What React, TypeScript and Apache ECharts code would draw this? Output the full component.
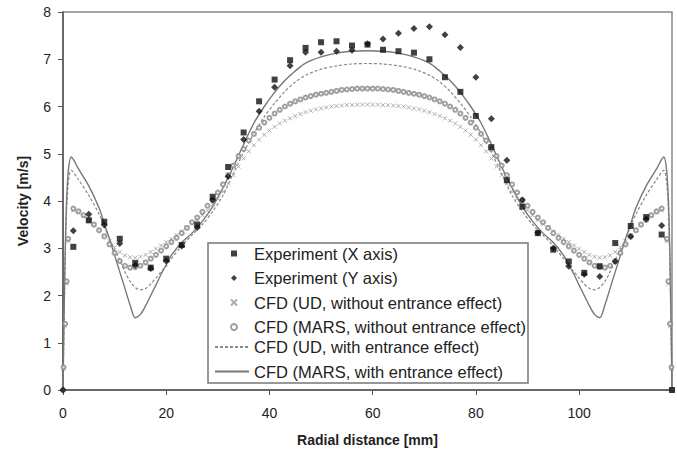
import React, { useEffect, useRef } from "react";
import * as echarts from "echarts";

const NAMES = [
  "Experiment (X axis)",
  "Experiment (Y axis)",
  "CFD (UD, without entrance effect)",
  "CFD (MARS, without entrance effect)",
  "CFD (UD, with entrance effect)",
  "CFD (MARS, with entrance effect)",
];

const xTicks = [0, 20, 40, 60, 80, 100];
const yTicks = [0, 1, 2, 3, 4, 5, 6, 7, 8];

// Experiment (X axis) - squares
const expXPos = [2, 5, 8, 11, 14, 17, 20, 23, 26, 29, 32, 35, 38, 41, 44, 47, 50, 53, 56, 59, 62, 65, 68, 71, 74, 77, 80, 83, 86, 89, 92, 95, 98, 101, 104, 107, 110, 113, 116, 118];
const expXVal = [3.03, 3.59, 3.56, 3.2, 2.69, 2.59, 2.78, 3.07, 3.5, 4.09, 4.72, 5.45, 6.11, 6.57, 6.98, 7.24, 7.36, 7.38, 7.29, 7.31, 7.2, 7.17, 7.14, 7.0, 6.62, 6.31, 5.8, 5.14, 4.44, 3.88, 3.32, 2.97, 2.72, 2.48, 2.62, 3.11, 3.47, 3.66, 3.29, 0];

// Experiment (Y axis) - diamonds
const expYPos = [0, 2, 5, 8, 11, 14, 17, 20, 23, 26, 29, 32, 35, 38, 41, 44, 47, 50, 53, 56, 59, 62, 65, 68, 71, 74, 77, 80, 83, 86, 89, 92, 95, 98, 101, 104, 107, 110, 113, 116];
const expYVal = [0, 3.37, 3.72, 3.49, 3.1, 2.64, 2.57, 2.73, 3.05, 3.44, 4.02, 4.52, 5.3, 5.9, 6.41, 6.86, 7.15, 7.15, 7.17, 7.19, 7.33, 7.43, 7.55, 7.65, 7.69, 7.52, 7.25, 6.62, 5.74, 4.86, 4.02, 3.33, 3.0, 2.62, 2.45, 2.4, 2.72, 3.25, 3.62, 3.48];

// CFD marker positions (mm)
const cfdPos = [0, 0.1, 0.4, 0.7,
  1, 2, 3, 4, 5, 6, 7, 8, 9, 10, 11, 12, 13, 14, 15, 16, 17, 18, 19, 20,
  21, 22, 23, 24, 25, 26, 27, 28, 29, 30, 31, 32, 33, 34, 35, 36, 37, 38, 39, 40,
  41, 42, 43, 44, 45, 46, 47, 48, 49, 50, 51, 52, 53, 54, 55, 56, 57, 58, 59, 60,
  61, 62, 63, 64, 65, 66, 67, 68, 69, 70, 71, 72, 73, 74, 75, 76, 77, 78, 79, 80,
  81, 82, 83, 84, 85, 86, 87, 88, 89, 90, 91, 92, 93, 94, 95, 96, 97, 98, 99, 100,
  101, 102, 103, 104, 105, 106, 107, 108, 109, 110, 111, 112, 113, 114, 115, 116, 117,
  117.3, 117.6, 117.9, 118];

// CFD (UD, without entrance effect) - crosses
const udNoEntr = [0, 0.45, 1.35, 2.25,
  3.15, 3.8, 3.76, 3.68, 3.6, 3.5, 3.4, 3.28, 3.15, 3.02, 2.92, 2.85, 2.81, 2.8, 2.82, 2.86, 2.92, 2.99, 3.06, 3.13,
  3.2, 3.28, 3.36, 3.44, 3.52, 3.6, 3.7, 3.8, 3.92, 4.05, 4.2, 4.37, 4.55, 4.73, 4.9, 5.05, 5.18, 5.3, 5.4, 5.49,
  5.57, 5.64, 5.7, 5.75, 5.8, 5.84, 5.88, 5.91, 5.94, 5.96, 5.98, 6.0, 6.01, 6.02, 6.03, 6.03, 6.04, 6.04, 6.04, 6.04,
  6.04, 6.03, 6.03, 6.02, 6.01, 6.0, 5.98, 5.96, 5.94, 5.91, 5.88, 5.84, 5.8, 5.75, 5.7, 5.64, 5.57, 5.49, 5.4, 5.3,
  5.18, 5.05, 4.9, 4.73, 4.55, 4.37, 4.2, 4.05, 3.92, 3.8, 3.7, 3.6, 3.52, 3.44, 3.36, 3.28, 3.2, 3.13, 3.06, 2.99,
  2.92, 2.86, 2.82, 2.8, 2.81, 2.85, 2.92, 3.02, 3.15, 3.28, 3.4, 3.5, 3.6, 3.68, 3.76, 3.8, 3.15,
  2.25, 1.35, 0.45, 0];

// CFD (MARS, without entrance effect) - circles
const marsNoEntr = [0, 0.48, 1.4, 2.3,
  3.2, 3.84, 3.78, 3.7, 3.6, 3.5, 3.38, 3.25, 3.08, 2.9, 2.73, 2.63, 2.59, 2.6, 2.63, 2.7, 2.78, 2.86, 2.95, 3.04,
  3.13, 3.22, 3.32, 3.43, 3.55, 3.65, 3.77, 3.9, 4.02, 4.18, 4.35, 4.55, 4.75, 4.95, 5.1, 5.28, 5.42, 5.55, 5.66, 5.76,
  5.85, 5.93, 6.0, 6.06, 6.11, 6.15, 6.19, 6.22, 6.25, 6.27, 6.29, 6.31, 6.33, 6.35, 6.36, 6.37, 6.38, 6.38, 6.38, 6.38,
  6.38, 6.37, 6.36, 6.35, 6.33, 6.31, 6.29, 6.27, 6.25, 6.22, 6.19, 6.15, 6.11, 6.06, 6.0, 5.93, 5.85, 5.76, 5.66, 5.55,
  5.42, 5.28, 5.1, 4.95, 4.75, 4.55, 4.35, 4.18, 4.02, 3.9, 3.77, 3.65, 3.55, 3.43, 3.32, 3.22, 3.13, 3.04, 2.95, 2.86,
  2.78, 2.7, 2.63, 2.6, 2.59, 2.63, 2.73, 2.9, 3.08, 3.25, 3.38, 3.5, 3.6, 3.7, 3.78, 3.84, 3.2,
  2.3, 1.4, 0.48, 0];

// CFD (UD, with entrance effect) - dashed line
const udEntrPos = [0, 0.3, 0.6, 1, 1.6, 3, 5, 7, 8, 9, 10, 11, 12, 13, 14, 15, 16, 17, 18, 19, 20, 21, 23, 25, 27, 29, 31, 33, 35, 37, 39, 41, 43, 45, 47, 50, 53, 56, 59,
  62, 65, 68, 71, 73, 75, 77, 79, 81, 83, 85, 87, 89, 91, 93, 95, 97, 98, 99, 100, 101, 102, 103, 104, 105, 106, 107, 108, 109, 110, 111, 113, 115, 116.4, 117, 117.4, 117.7, 118];
const udEntrVal = [0, 2.0, 3.5, 4.35, 4.65, 4.45, 4.12, 3.72, 3.47, 3.2, 2.97, 2.75, 2.5, 2.3, 2.17, 2.12, 2.15, 2.24, 2.37, 2.5, 2.62, 2.78, 3.05, 3.28, 3.5, 3.78, 4.12, 4.58, 5.03, 5.43, 5.78, 6.07, 6.32, 6.52, 6.66, 6.79, 6.86, 6.9, 6.91,
  6.9, 6.86, 6.79, 6.66, 6.52, 6.32, 6.07, 5.78, 5.43, 5.03, 4.58, 4.12, 3.78, 3.5, 3.28, 3.05, 2.78, 2.62, 2.5, 2.37, 2.24, 2.15, 2.12, 2.17, 2.3, 2.5, 2.75, 2.97, 3.2, 3.47, 3.72, 4.12, 4.45, 4.65, 4.35, 3.5, 2.0, 0];

// CFD (MARS, with entrance effect) - solid line
const marsEntrPos = [0, 0.3, 0.6, 1, 1.6, 3, 5, 7, 8, 9, 10, 11, 12, 13, 14, 15, 16, 17, 18, 19, 20, 21, 23, 25, 27, 29, 31, 33, 35, 37, 39, 41, 43, 45, 47, 50, 53, 56, 59,
  62, 65, 68, 71, 73, 75, 77, 79, 81, 83, 85, 87, 89, 91, 93, 95, 97, 98, 99, 100, 101, 102, 103, 104, 105, 106, 107, 108, 109, 110, 111, 113, 115, 116.4, 117, 117.4, 117.7, 118];
const marsEntrVal = [0, 2.2, 3.7, 4.6, 4.93, 4.68, 4.32, 3.85, 3.52, 3.2, 2.85, 2.5, 2.15, 1.8, 1.53, 1.6, 1.78, 2.0, 2.22, 2.45, 2.65, 2.85, 3.12, 3.32, 3.57, 3.88, 4.28, 4.72, 5.2, 5.65, 6.0, 6.3, 6.55, 6.75, 6.92, 7.05, 7.13, 7.17, 7.18,
  7.17, 7.13, 7.05, 6.92, 6.75, 6.55, 6.3, 6.0, 5.65, 5.2, 4.72, 4.28, 3.88, 3.57, 3.32, 3.12, 2.85, 2.65, 2.45, 2.22, 2.0, 1.78, 1.6, 1.53, 1.8, 2.15, 2.5, 2.85, 3.2, 3.52, 3.85, 4.32, 4.68, 4.93, 4.6, 3.7, 2.2, 0];

const zip = (xs: number[], ys: number[]) => xs.map((x, i) => [x, ys[i]]);

const FONT = "'Liberation Sans', Arial, Helvetica, sans-serif";

export default function App() {
  const ref = useRef<HTMLDivElement>(null);
  useEffect(() => {
    const chart = echarts.init(ref.current!, null, { renderer: "svg" });
    const legendText = { fontSize: 16.5, color: "#222", fontFamily: FONT, lineHeight: 14 };
    chart.setOption({
      animation: false,
      backgroundColor: "#fff",
      textStyle: { fontFamily: FONT },
      grid: {
        left: 63, right: 5, top: 12, bottom: 62,
        show: true, borderColor: "#888", borderWidth: 1.5,
      },
      xAxis: {
        type: "value", min: xTicks[0], max: 118, interval: 20,
        name: "Radial distance [mm]", nameLocation: "middle", nameGap: 43,
        nameTextStyle: { fontSize: 14, fontWeight: "bold", color: "#222", fontFamily: FONT },
        axisLine: { lineStyle: { color: "#555", width: 1.5 } },
        axisTick: { show: true, length: 5, lineStyle: { color: "#555" } },
        axisLabel: { fontSize: 14, color: "#222", margin: 16, showMaxLabel: false, fontFamily: FONT,
          formatter: (v: number) => (xTicks.includes(v) ? String(v) : "") },
        splitLine: { show: false },
      },
      yAxis: {
        type: "value", min: yTicks[0], max: yTicks[yTicks.length - 1], interval: 1,
        name: "Velocity [m/s]", nameLocation: "middle", nameGap: 33,
        nameTextStyle: { fontSize: 14, fontWeight: "bold", color: "#222", fontFamily: FONT },
        axisLine: { show: true, lineStyle: { color: "#555", width: 1.5 } },
        axisTick: { show: true, length: 5, lineStyle: { color: "#555" } },
        axisLabel: { fontSize: 14, color: "#222", margin: 12, fontFamily: FONT },
        splitLine: { show: false },
      },
      legend: [
        {
          orient: "vertical", left: 230, top: 245, z: 120, padding: 0,
          itemWidth: 6, itemHeight: 6, itemGap: 7.5,
          data: NAMES.slice(0, 4),
          textStyle: { ...legendText, padding: [0, 0, 0, 12] },
        },
        {
          orient: "vertical", left: 214, top: 245 + 4 * 23.4, z: 120, padding: 0,
          itemWidth: 34, itemHeight: 14, itemGap: 7.5,
          data: NAMES.slice(4),
          itemStyle: { opacity: 0 },
          textStyle: legendText,
        },
      ],
      graphic: [
        {
          type: "rect", z: 100,
          shape: { x: 208, y: 243, width: 320, height: 140 },
          style: { fill: "#fff", stroke: "#777", lineWidth: 1.5 },
        },
      ],
      series: [
        {
          name: NAMES[4], type: "line", data: zip(udEntrPos, udEntrVal),
          showSymbol: false, symbol: "none", smooth: 0.3,
          lineStyle: { color: "#888", width: 1.2, type: [3, 2] },
          itemStyle: { color: "#888" }, z: 2,
        },
        {
          name: NAMES[5], type: "line", data: zip(marsEntrPos, marsEntrVal),
          showSymbol: false, symbol: "none", smooth: 0.3,
          lineStyle: { color: "#777", width: 1.4 },
          itemStyle: { color: "#777" }, z: 2,
        },
        {
          name: NAMES[2], type: "scatter", data: zip(cfdPos, udNoEntr),
          symbol: "path://M0,0L10,10M10,0L0,10", symbolSize: 4,
          itemStyle: { color: "#999", borderColor: "#999", borderWidth: 1 }, z: 3,
        },
        {
          name: NAMES[3], type: "scatter", data: zip(cfdPos, marsNoEntr),
          symbol: "emptyCircle", symbolSize: 4,
          itemStyle: { color: "#888", borderWidth: 0.9 }, z: 3,
        },
        {
          name: NAMES[0], type: "scatter", data: zip(expXPos, expXVal),
          symbol: "rect", symbolSize: 6,
          itemStyle: { color: "#111" }, z: 5,
        },
        {
          name: NAMES[1], type: "scatter", data: zip(expYPos, expYVal),
          symbol: "diamond", symbolSize: 7,
          itemStyle: { color: "#111" }, z: 5,
        },
      ],
    });
    return () => chart.dispose();
  }, []);
  return <div ref={ref} style={{ position: "absolute", left: 0, top: 0, width: 677, height: 452 }} />;
}
